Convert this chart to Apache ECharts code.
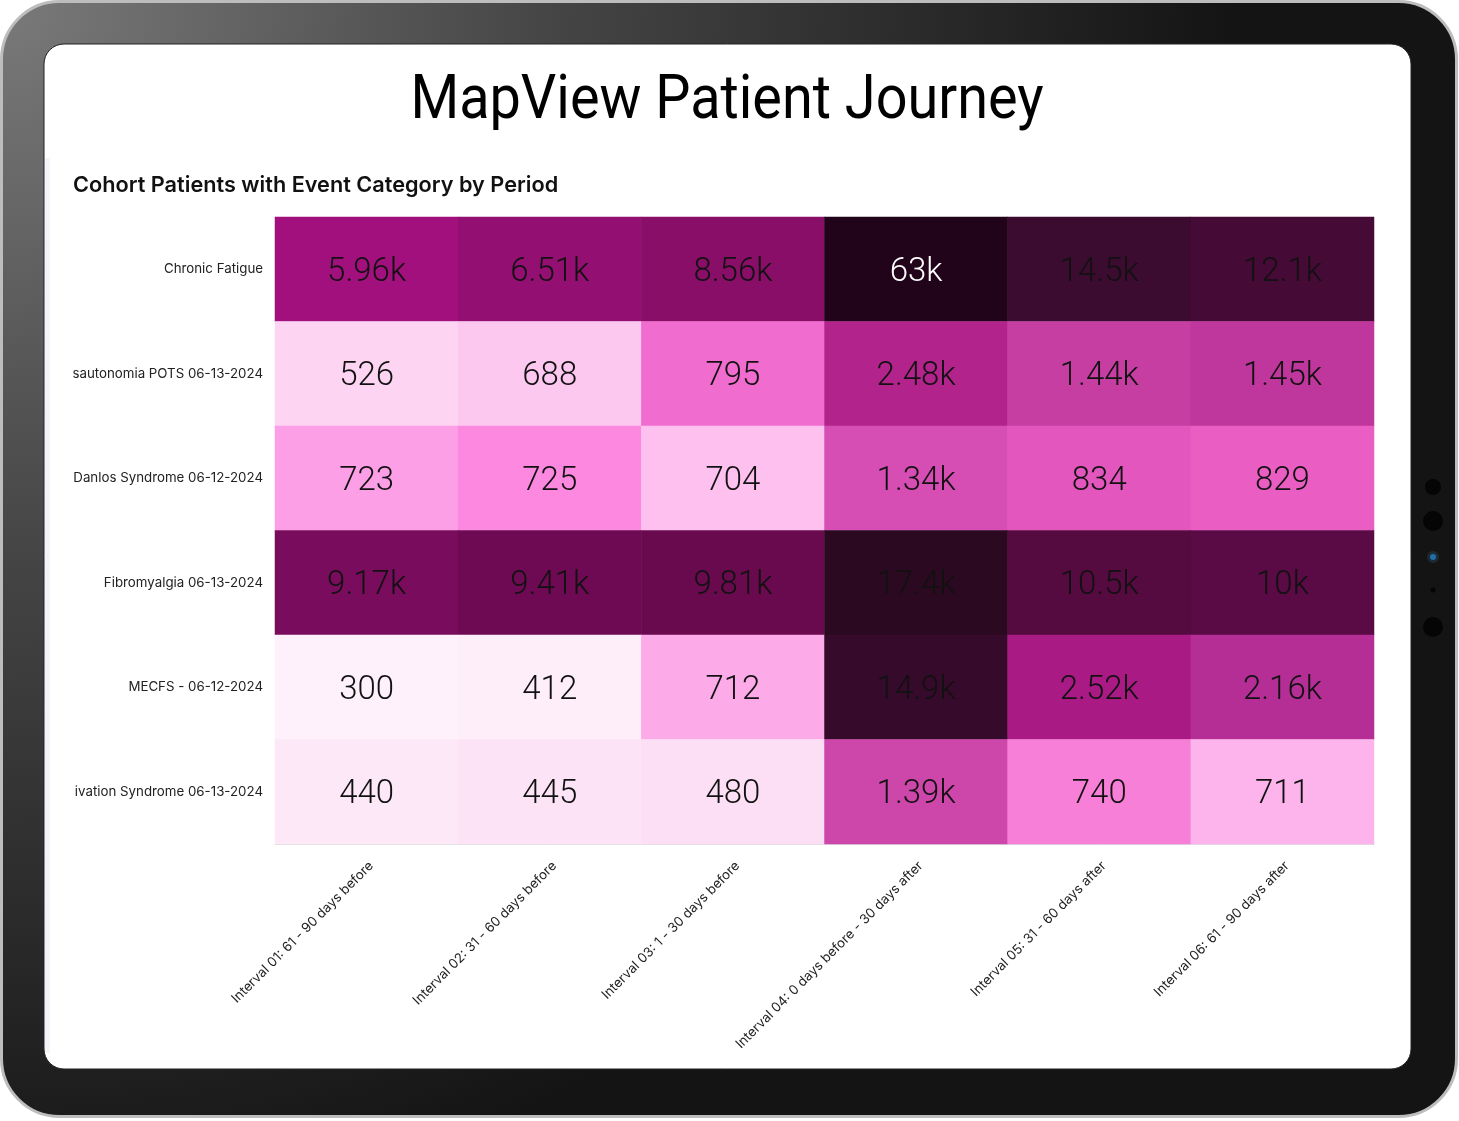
<!DOCTYPE html>
<html>
<head>
<meta charset="utf-8">
<title>MapView Patient Journey</title>
<script src="https://cdn.jsdelivr.net/npm/echarts@6/dist/echarts.min.js"></script>
<style>
html, body { margin: 0; padding: 0; background: #fff; }
#main { width: 1459px; height: 1121px; }
</style>
</head>
<body>
<div id="main"></div>
<script>
var periods = [
    "Interval 01: 61 - 90 days before",
    "Interval 02: 31 - 60 days before",
    "Interval 03: 1 - 30 days before",
    "Interval 04: 0 days before - 30 days after",
    "Interval 05: 31 - 60 days after",
    "Interval 06: 61 - 90 days after"
];
var cohorts = [
    "Chronic Fatigue",
    "sautonomia POTS 06-13-2024",
    "Danlos Syndrome 06-12-2024",
    "Fibromyalgia 06-13-2024",
    "MECFS - 06-12-2024",
    "ivation Syndrome 06-13-2024"
];
// one row per cohort, one column per period
var chronicFatigue = [5960, 6510, 8560, 63000, 14500, 12100];
var pots = [526, 688, 795, 2480, 1440, 1450];
var danlos = [723, 725, 704, 1340, 834, 829];
var fibromyalgia = [9170, 9410, 9810, 17400, 10500, 10000];
var mecfs = [300, 412, 712, 14900, 2520, 2160];
var mcas = [440, 445, 480, 1390, 740, 711];
var rows = [chronicFatigue, pots, danlos, fibromyalgia, mecfs, mcas];

// quantile palette, light to dark
var palette = ['#fff1fb', '#feeef9', '#fde8f7', '#fde3f6', '#fddff5', '#fdd5f3',
    '#fdc8f0', '#fec0ef', '#fdb3eb', '#fdaae9', '#fd9fe6', '#fd88e0',
    '#f77fd8', '#f06dcf', '#ea5ec4', '#e256bd', '#d64db4', '#cd47ab',
    '#c63ea1', '#bf369c', '#b42e96', '#b2238c', '#aa1a85', '#a1107c',
    '#930f72', '#880e68', '#7a0c5d', '#6e0a53', '#680a4d', '#5a0a44',
    '#550a40', '#460a36', '#3c0b30', '#360a2a', '#2b0a21', '#22041a'];

var sorted = [];
rows.forEach(function (r) { r.forEach(function (v) { sorted.push(v); }); });
sorted.sort(function (a, b) { return a - b; });

var cells = [];
for (var i = 0; i < rows.length; i++) {
    for (var j = 0; j < rows[i].length; j++) {
        var v = rows[i][j];
        cells.push({
            value: [j, i, v, sorted.indexOf(v)],
            label: { color: v >= 50000 ? '#ffffff' : '#111111' }
        });
    }
}

function fmt(v) {
    return v >= 1000 ? Number((v / 1000).toPrecision(3)) + 'k' : String(v);
}

var myChart = echarts.init(document.getElementById('main'));

var option = {
    backgroundColor: '#ffffff',
    animation: false,
    title: [{
        text: 'Cohort Patients with Event Category by Period',
        left: 68,
        top: 169,
        textStyle: { fontFamily: 'Inter', fontSize: 21.7, fontWeight: 600, color: '#111' }
    }],
    graphic: [
        {
            type: 'rect', z: 0, silent: true,
            shape: { x: 1.5, y: 1.5, width: 1455, height: 1115, r: 58 },
            style: {
                fill: new echarts.graphic.RadialGradient(0, 0, 1.1, [
                    { offset: 0, color: '#7a7a7a' },
                    { offset: 0.45, color: '#454545' },
                    { offset: 1, color: '#141414' }
                ]),
                stroke: '#bdbdbd', lineWidth: 3
            }
        },
        {
            type: 'rect', z: 0, silent: true,
            shape: { x: 44, y: 44, width: 1367, height: 1025, r: 20 },
            style: { fill: '#ffffff', stroke: '#222', lineWidth: 1 }
        },
        {
            type: 'rect', z: 0, silent: true,
            shape: { x: 45, y: 158, width: 5, height: 895 },
            style: { fill: '#f3f3fa' }
        },
        { type: 'circle', z: 0, silent: true, shape: { cx: 1433, cy: 487, r: 8 }, style: { fill: '#050505' } },
        { type: 'circle', z: 0, silent: true, shape: { cx: 1433, cy: 521, r: 10 }, style: { fill: '#050505' } },
        { type: 'circle', z: 0, silent: true, shape: { cx: 1433, cy: 557, r: 6 }, style: { fill: '#1e2a33' } },
        { type: 'circle', z: 0, silent: true, shape: { cx: 1433, cy: 557, r: 3 }, style: { fill: '#1f6fa8' } },
        { type: 'circle', z: 0, silent: true, shape: { cx: 1433, cy: 590, r: 2.5 }, style: { fill: '#050505' } },
        { type: 'circle', z: 0, silent: true, shape: { cx: 1433, cy: 627, r: 10 }, style: { fill: '#050505' } },
        {
            type: 'text', z: 10, silent: true,
            x: 727, y: 71, scaleX: 0.9,
            style: {
                text: 'MapView Patient Journey',
                fontFamily: 'Roboto', fontSize: 62, fontWeight: 400,
                fill: '#000', align: 'center', verticalAlign: 'top'
            }
        }
    ],
    grid: {
        left: 275,
        right: 85,
        top: 217,
        bottom: 277,
        show: true,
        borderColor: '#e2e2e2',
        borderWidth: 1
    },
    xAxis: {
        type: 'category',
        data: periods,
        axisLine: { lineStyle: { color: '#dedede' } },
        axisTick: { alignWithLabel: true, length: 7, lineStyle: { color: '#cfcfcf' } },
        axisLabel: {
            rotate: 45,
            interval: 0,
            margin: 15,
            verticalAlign: 'top',
            fontFamily: 'Inter',
            fontSize: 13.3,
            color: '#222'
        },
        splitArea: { show: false }
    },
    yAxis: {
        type: 'category',
        data: cohorts,
        inverse: true,
        axisLine: { lineStyle: { color: '#dedede' } },
        axisTick: { alignWithLabel: true, length: 7, lineStyle: { color: '#cfcfcf' } },
        axisLabel: {
            interval: 0,
            margin: 12,
            fontFamily: 'Inter',
            fontSize: 13.3,
            color: '#222'
        }
    },
    visualMap: {
        show: false,
        type: 'continuous',
        dimension: 3,
        min: 0,
        max: palette.length - 1,
        inRange: { color: palette }
    },
    series: [{
        type: 'heatmap',
        data: cells,
        label: {
            show: true,
            fontFamily: 'Roboto',
            fontSize: 33,
            fontWeight: 300,
            offset: [0, 3],
            formatter: function (p) { return fmt(p.value[2]); }
        },
        itemStyle: { borderWidth: 0 },
        emphasis: { disabled: true }
    }]
};

if (option && typeof option === "object") {
    myChart.setOption(option, true);
}
</script>
</body>
</html>
